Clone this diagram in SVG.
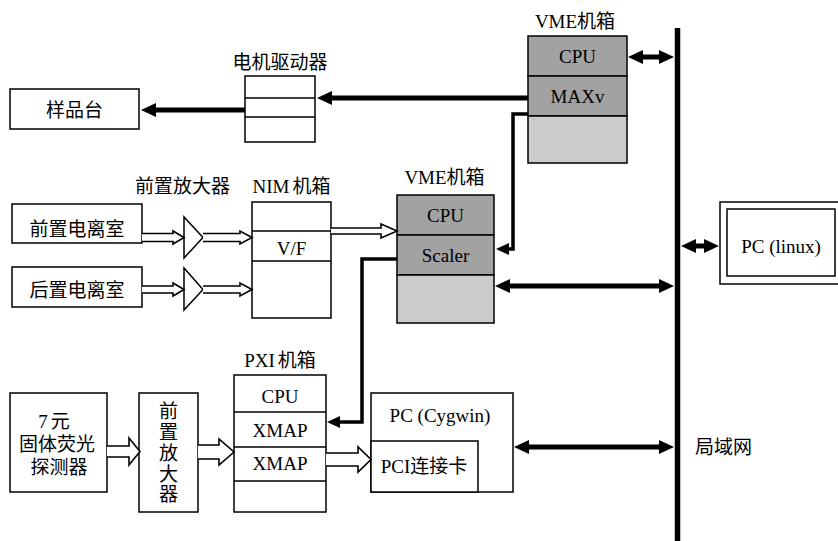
<svg xmlns="http://www.w3.org/2000/svg" width="838" height="541" viewBox="0 0 838 541">
<style>
.box{fill:#fff;stroke:#000;stroke-width:1.5}
.dk{fill:#a2a2a2;stroke:#000;stroke-width:1.5}
.lt{fill:#cbcbcb;stroke:#000;stroke-width:1.5}
.dv{stroke:#000;stroke-width:1.5;fill:none}
.cn{font-family:"Noto Sans CJK SC",sans-serif;font-size:19px;fill:#000;text-anchor:middle}
.lat{font-family:"Liberation Serif","Noto Sans CJK SC",serif;font-size:19px;fill:#000;text-anchor:middle}
.vert{writing-mode:vertical-rl;letter-spacing:1.75px}
.thick{stroke:#000;stroke-width:5;fill:none}
.thin{stroke:#000;stroke-width:3.5;fill:none;stroke-linejoin:miter}
.hol{fill:#fff;stroke:#000;stroke-width:1.6;stroke-linejoin:miter}
</style>
<defs>
<marker id="ah" markerUnits="userSpaceOnUse" viewBox="0 0 16 14" markerWidth="16" markerHeight="14" refX="1" refY="7" orient="auto-start-reverse"><path d="M0,0 L15,7 L0,14 Z" fill="#000"/></marker>
<marker id="ahs" markerUnits="userSpaceOnUse" viewBox="0 0 14 12" markerWidth="14" markerHeight="12" refX="1" refY="6" orient="auto-start-reverse"><path d="M0,0 L13,6 L0,12 Z" fill="#000"/></marker>
</defs>
<rect width="838" height="541" fill="#fff"/>

<g id="sample-stage">
<rect class="box" x="10" y="89" width="129" height="40"/>
<text class="cn" x="74.5" y="116.5">样品台</text>
</g>

<g id="motor-driver">
<text class="cn" x="280" y="69">电机驱动器</text>
<rect class="box" x="245" y="76" width="70" height="66"/>
<line class="dv" x1="245" y1="98" x2="315" y2="98"/>
<line class="dv" x1="245" y1="117" x2="315" y2="117"/>
</g>

<g id="vme-top">
<text class="lat" x="575" y="28">VME机箱</text>
<rect class="dk" x="528" y="36" width="99" height="40"/>
<rect class="dk" x="528" y="76" width="99" height="40"/>
<rect class="lt" x="528" y="116" width="99" height="47"/>
<text class="lat" x="577.5" y="63">CPU</text>
<text class="lat" x="577.5" y="103">MAXv</text>
</g>

<g id="ion-front">
<rect class="box" x="12" y="204" width="130" height="39"/>
<text class="cn" x="77" y="236">前置电离室</text>
</g>

<g id="ion-back">
<rect class="box" x="12" y="267" width="130" height="40"/>
<text class="cn" x="77" y="297">后置电离室</text>
</g>

<g id="preamp-label">
<text class="cn" x="182.5" y="193">前置放大器</text>
</g>

<g id="amp1"><path class="box" d="M184,217 L184,258 L203,237.5 Z"/></g>
<g id="amp2"><path class="box" d="M184,268 L184,310 L203,289.5 Z"/></g>

<g id="nim">
<text class="lat" x="291.5" y="193">NIM<tspan dx="3">机箱</tspan></text>
<rect class="box" x="252" y="202" width="79" height="116"/>
<line class="dv" x1="252" y1="231" x2="331" y2="231"/>
<line class="dv" x1="252" y1="261" x2="331" y2="261"/>
<text class="lat" x="291.5" y="255">V/F</text>
</g>

<g id="vme-mid">
<text class="lat" x="444.5" y="184">VME机箱</text>
<rect class="dk" x="397" y="195" width="97" height="40"/>
<rect class="dk" x="397" y="235" width="97" height="40"/>
<rect class="lt" x="397" y="275" width="97" height="48"/>
<text class="lat" x="445.5" y="222">CPU</text>
<text class="lat" x="445.5" y="262">Scaler</text>
</g>

<g id="pc-linux">
<rect class="box" x="720" y="202" width="125" height="82"/>
<rect class="box" x="727" y="209" width="108" height="67"/>
<text class="lat" x="781" y="253">PC (linux)</text>
</g>

<g id="detector">
<rect class="box" x="10" y="393" width="97" height="99"/>
<text class="lat"><tspan x="54" y="428">7<tspan dx="3">元</tspan></tspan><tspan x="57" y="450.5">固体荧光</tspan><tspan x="59" y="473.5">探测器</tspan></text>
</g>

<g id="preamp-v">
<rect class="box" x="139" y="393" width="59" height="119"/>
<text class="cn vert" x="168.5" y="453.5">前置放大器</text>
</g>

<g id="pxi">
<text class="lat" x="280" y="367">PXI<tspan dx="3">机箱</tspan></text>
<rect class="box" x="234" y="375" width="92" height="137"/>
<line class="dv" x1="234" y1="412" x2="326" y2="412"/>
<line class="dv" x1="234" y1="447" x2="326" y2="447"/>
<line class="dv" x1="234" y1="481" x2="326" y2="481"/>
<text class="lat" x="280" y="403">CPU</text>
<text class="lat" x="280" y="437">XMAP</text>
<text class="lat" x="280" y="470">XMAP</text>
</g>

<g id="pc-cygwin">
<rect class="box" x="371" y="393" width="142" height="99"/>
<rect class="box" x="371" y="441" width="107" height="51"/>
<text class="lat" x="440" y="422">PC (Cygwin)</text>
<text class="lat" x="424" y="473">PCI连接卡</text>
</g>

<g id="lan">
<line x1="677.5" y1="28" x2="677.5" y2="541" stroke="#000" stroke-width="5.5"/>
<text class="cn" x="695" y="454" style="text-anchor:start">局域网</text>
</g>

<g id="connectors">
<line class="thick" x1="528" y1="98" x2="331" y2="98" marker-end="url(#ah)"/>
<line class="thick" x1="245" y1="110" x2="155" y2="110" marker-end="url(#ah)"/>
<line class="thick" x1="642" y1="57" x2="660" y2="57" stroke-width="4.5" marker-start="url(#ah)" marker-end="url(#ah)"/>
<polyline class="thin" points="528,114 513,114 513,249 508,249" marker-end="url(#ahs)"/>
<polyline class="thin" points="397,259 362,259 362,422 339,422" marker-end="url(#ahs)"/>
<line class="thick" x1="509" y1="286" x2="660" y2="286" stroke-width="4.5" marker-start="url(#ah)" marker-end="url(#ah)"/>
<line class="thick" x1="695" y1="246" x2="705" y2="246" stroke-width="4.5" marker-start="url(#ah)" marker-end="url(#ah)"/>
<line class="thick" x1="528" y1="447" x2="660" y2="447" stroke-width="4.5" marker-start="url(#ah)" marker-end="url(#ah)"/>
<path class="hol" d="M142,233.5 L173,233.5 L173,231 L184,237.5 L173,244 L173,241.5 L142,241.5"/>
<path class="hol" d="M203,233.5 L240,233.5 L240,231 L252,237.5 L240,244 L240,241.5 L203,241.5"/>
<path class="hol" d="M142,286 L173,286 L173,283 L184,289.5 L173,296 L173,293 L142,293"/>
<path class="hol" d="M203,286 L240,286 L240,283 L252,289.5 L240,296 L240,293 L203,293"/>
<path class="hol" d="M331,228 L381,228 L381,224 L397,231 L381,238 L381,234 L331,234"/>
<path class="hol" d="M107,446 L129,446 L129,438 L140,451.5 L129,465 L129,457 L107,457"/>
<path class="hol" d="M198,445 L219,445 L219,439 L234,452 L219,465 L219,459 L198,459"/>
<path class="hol" d="M326,453 L358,453 L358,447 L371,459.5 L358,472 L358,466 L326,466"/>
</g>
</svg>
